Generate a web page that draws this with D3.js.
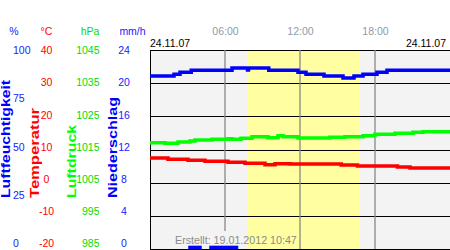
<!DOCTYPE html>
<html>
<head>
<meta charset="utf-8">
<script src="https://cdn.jsdelivr.net/npm/d3@7"></script>
<style>
  body { margin: 0; background: #fff; }
  svg { display: block; font-family: "Liberation Sans", Arial, sans-serif; }
</style>
</head>
<body>
<div id="chart"></div>
<script>
// data (hours of the day)
const humHours = [0, 1.92, 2.4, 3.3, 6.56, 7.8, 7.88, 9.5, 11.84, 12.48, 13.92, 15.44, 16.32, 17.04, 18.16, 18.96, 24]
const humValues = [86.9, 87.8, 88.8, 89.8, 91.0, 89.9, 91.0, 89.8, 88.8, 87.8, 86.9, 85.9, 86.9, 87.8, 88.8, 89.8, 89.8]

const tempHours = [0, 1.44, 3.04, 4.4, 6.24, 7.6, 9.2, 10.0, 11.2, 15.3, 16.6, 19.8, 20.8, 24]
const tempValues = [7.44, 7.05, 6.74, 6.44, 6.14, 5.84, 5.42, 5.72, 5.63, 5.33, 5.03, 4.72, 4.42, 4.42]

const presHours = [0, 1.2, 2.24, 3.2, 3.6, 4.96, 6.24, 6.56, 7.28, 8.16, 9.44, 10.24, 10.64, 11.84, 14.4, 15.6, 17.04, 18.0, 19.6, 21.04, 21.84, 24]
const presValues = [1017.05, 1016.87, 1017.26, 1017.56, 1017.86, 1018.08, 1018.26, 1018.08, 1018.38, 1018.86, 1018.56, 1019.16, 1018.86, 1018.47, 1018.68, 1018.86, 1019.16, 1019.58, 1019.88, 1020.19, 1020.37, 1020.37]

const precipStart = [3.06, 4.74]
const precipEnd = [4.14, 7.06]
const precipValues = [0.4, 0.4]

const daylight = [7.8, 16.8]
const hourTicks = [6, 12, 18]
const hourLabels = ["06:00", "12:00", "18:00"]

const humTicks = [100, 75, 50, 25, 0]
const tempTicks = [40, 30, 20, 10, 0, -10, -20]
const presTicks = [1045, 1035, 1025, 1015, 1005, 995, 985]
const precTicks = [24, 20, 16, 12, 8, 4, 0]

const W = 450, H = 250
const PLOT = { x: 150, y: 50, w: 300, h: 199 }

const svg = d3.select("#chart").append("svg")
    .attr("width", W)
    .attr("height", H)

const x = d3.scaleLinear().domain([0, 24]).range([PLOT.x, PLOT.x + PLOT.w])
const bottom = PLOT.y + PLOT.h
const yHum = d3.scaleLinear().domain([0, 100]).range([bottom, PLOT.y])
const yTemp = d3.scaleLinear().domain([-20, 40]).range([bottom, PLOT.y])
const yPres = d3.scaleLinear().domain([985, 1045]).range([bottom, PLOT.y])
const yPrec = d3.scaleLinear().domain([0, 24]).range([bottom, PLOT.y])

// tick labels sit a little higher at the bottom than the grid
const labTop = 50, labBottom = 243
const lHum = yHum.copy().range([labBottom, labTop])
const lTemp = yTemp.copy().range([labBottom, labTop])
const lPres = yPres.copy().range([labBottom, labTop])
const lPrec = yPrec.copy().range([labBottom, labTop])

// plot background + daylight band
svg.append("rect")
    .attr("x", PLOT.x).attr("y", PLOT.y)
    .attr("width", PLOT.w).attr("height", PLOT.h)
    .attr("fill", "#f3f3f3")

svg.append("rect")
    .attr("x", x(daylight[0])).attr("y", PLOT.y)
    .attr("width", x(daylight[1]) - x(daylight[0])).attr("height", PLOT.h)
    .attr("fill", "#ffffa2")

// horizontal grid
svg.append("g").selectAll("line")
    .data(tempTicks)
    .join("line")
    .attr("x1", PLOT.x).attr("x2", PLOT.x + PLOT.w)
    .attr("y1", d => Math.round(yTemp(d)) + 0.5)
    .attr("y2", d => Math.round(yTemp(d)) + 0.5)
    .attr("stroke", "#000")
    .attr("stroke-width", 1)

// vertical hour lines
svg.append("g").selectAll("line")
    .data(hourTicks)
    .join("line")
    .attr("x1", d => x(d)).attr("x2", d => x(d))
    .attr("y1", PLOT.y).attr("y2", bottom)
    .attr("stroke", "#888")
    .attr("stroke-width", 1.3)

// left border
svg.append("line")
    .attr("x1", PLOT.x + 0.5).attr("x2", PLOT.x + 0.5)
    .attr("y1", PLOT.y).attr("y2", bottom + 0.5)
    .attr("stroke", "#000")

// box behind the "Erstellt" note
svg.append("rect")
    .attr("x", 172).attr("y", 231)
    .attr("width", x(daylight[0]) - 172).attr("height", 17)
    .attr("fill", "#f3f3f3")

svg.append("text")
    .attr("x", 175).attr("y", 244)
    .attr("fill", "#8a8a8a")
    .style("font-size", "10.7px")
    .text("Erstellt: 19.01.2012 10:47")

// precipitation bars
svg.append("g").selectAll("rect")
    .data(precipValues)
    .join("rect")
    .attr("x", (d, i) => x(precipStart[i]))
    .attr("width", (d, i) => x(precipEnd[i]) - x(precipStart[i]))
    .attr("y", d => yPrec(d))
    .attr("height", d => bottom - yPrec(d))
    .attr("fill", "#0000ff")

// series lines
function drawLine(hours, values, y, color) {
    const line = d3.line()
        .x((d, i) => x(hours[i]))
        .y(d => y(d))
        .curve(d3.curveStepAfter)
    svg.append("path")
        .datum(values)
        .attr("d", line)
        .attr("fill", "none")
        .attr("stroke", color)
        .attr("stroke-width", 3.5)
}

drawLine(presHours, presValues, yPres, "#00ff00")
drawLine(tempHours, tempValues, yTemp, "#ff0000")
drawLine(humHours, humValues, yHum, "#0000ff")

// left axes (labels only)
function labelAxis(scale, ticks, xPos, anchor, color, fmt) {
    const g = svg.append("g")
        .attr("transform", `translate(${xPos},0)`)
        .call(d3.axisLeft(scale).tickValues(ticks).tickSize(0).tickPadding(0).tickFormat(fmt || (d => d)))
    g.select(".domain").remove()
    g.selectAll("text")
        .attr("x", 0)
        .attr("dy", "0.35em")
        .attr("text-anchor", anchor)
        .attr("fill", color)
        .style("font-size", "10.5px")
        .style("font-family", "'Liberation Sans', Arial, sans-serif")
}

labelAxis(lHum, humTicks, 13, "start", "#2020ff")
labelAxis(lTemp, tempTicks, 46.5, "middle", "#ff0000")
labelAxis(lPres, presTicks, 99.5, "end", "#00dd00")
labelAxis(lPrec, precTicks, 124, "middle", "#2020ff")

// unit headers
const units = [
    { t: "%", x: 14, c: "#2020ff" },
    { t: "°C", x: 46.5, c: "#ff0000" },
    { t: "hPa", x: 90, c: "#00dd00" },
    { t: "mm/h", x: 132.5, c: "#2020ff" },
]
svg.append("g").selectAll("text")
    .data(units)
    .join("text")
    .attr("x", d => d.x).attr("y", 34.5)
    .attr("text-anchor", "middle")
    .attr("fill", d => d.c)
    .style("font-size", "10.5px")
    .text(d => d.t)

// rotated axis titles
const titles = [
    { t: "Luftfeuchtigkeit", x: 9.5, len: 118, c: "#0000ff" },
    { t: "Temperatur", x: 38.5, len: 90, c: "#ff0000" },
    { t: "Luftdruck", x: 76, len: 73, c: "#00ff00" },
    { t: "Niederschlag", x: 117, len: 101, c: "#0000ff" },
]
svg.append("g").selectAll("text")
    .data(titles)
    .join("text")
    .attr("transform", d => `translate(${d.x},198) rotate(-90)`)
    .attr("fill", d => d.c)
    .attr("textLength", d => d.len)
    .attr("lengthAdjust", "spacingAndGlyphs")
    .style("font-size", "12.5px")
    .style("font-weight", "bold")
    .text(d => d.t)

// hour labels on top
const hourAxis = svg.append("g")
    .attr("transform", "translate(0,34.5)")
    .call(d3.axisTop(x).tickValues(hourTicks).tickSize(0).tickPadding(0)
        .tickFormat((d, i) => hourLabels[i]))
hourAxis.select(".domain").remove()
hourAxis.selectAll("text")
    .attr("y", 0).attr("dy", 0)
    .attr("fill", "#8f9aa8")
    .style("font-size", "10.5px")
    .style("font-family", "'Liberation Sans', Arial, sans-serif")

// dates
svg.append("text")
    .attr("x", 150).attr("y", 47)
    .attr("fill", "#000")
    .style("font-size", "10.5px")
    .text("24.11.07")

svg.append("text")
    .attr("x", 446).attr("y", 47)
    .attr("text-anchor", "end")
    .attr("fill", "#000")
    .style("font-size", "10.5px")
    .text("24.11.07")
</script>
</body>
</html>
